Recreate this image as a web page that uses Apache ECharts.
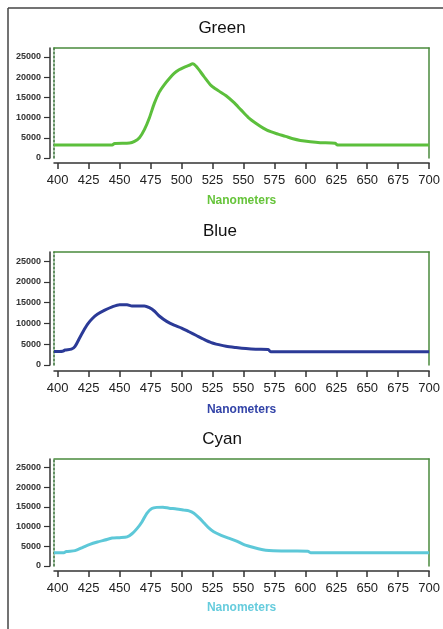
<!DOCTYPE html>
<html>
<head>
<meta charset="utf-8">
<script src="https://cdn.jsdelivr.net/npm/echarts@6/dist/echarts.min.js"></script>
<style>
html,body{margin:0;padding:0;background:#fff;}
#chart{width:443px;height:629px;}
</style>
</head>
<body>
<div id="chart"></div>
<script>
// ---- data ----
const titles = ['Green', 'Blue', 'Cyan'];
const xTickValues = [400, 425, 450, 475, 500, 525, 550, 575, 600, 625, 650, 675, 700];
const yTickValues = [0, 5000, 10000, 15000, 20000, 25000];

const greenNm  = [397, 444, 446, 458, 462, 466, 470, 474, 478, 482, 486, 490, 494, 498, 502, 506, 509, 512, 518, 524, 530, 536, 542, 548, 554, 560, 566, 572, 578, 584, 590, 596, 604, 612, 624, 626, 700];
const greenVal = [3200, 3200, 3600, 3700, 4100, 5000, 7000, 9900, 13500, 16300, 18100, 19600, 20900, 21800, 22400, 22900, 23300, 22600, 20200, 17900, 16600, 15400, 13800, 11900, 10000, 8600, 7400, 6500, 5900, 5350, 4750, 4350, 4030, 3800, 3630, 3200, 3200];

const blueNm  = [397, 404, 406, 411, 414, 418, 421, 424, 428, 432, 438, 444, 450, 456, 460, 470, 474, 478, 482, 488, 494, 500, 506, 512, 518, 524, 530, 536, 544, 552, 560, 570, 572, 700];
const blueVal = [3230, 3300, 3600, 3800, 4500, 6700, 8300, 9800, 11200, 12200, 13200, 14000, 14500, 14500, 14200, 14200, 13800, 13000, 11800, 10500, 9600, 8900, 8000, 7100, 6200, 5400, 4900, 4500, 4200, 3950, 3800, 3750, 3200, 3200];

const cyanNm  = [397, 405, 407, 414, 420, 426, 432, 438, 444, 450, 456, 460, 464, 468, 472, 476, 480, 485, 490, 496, 502, 506, 510, 514, 518, 522, 526, 532, 538, 544, 550, 556, 562, 568, 574, 585, 602, 604, 700];
const cyanVal = [3400, 3400, 3700, 3900, 4700, 5500, 6100, 6600, 7100, 7200, 7400, 8200, 9500, 11200, 13400, 14600, 14900, 14950, 14700, 14500, 14200, 14000, 13400, 12300, 11000, 9700, 8700, 7800, 7100, 6400, 5500, 4900, 4400, 4000, 3850, 3800, 3780, 3400, 3350];

const seriesNm  = [greenNm, blueNm, cyanNm];
const seriesVal = [greenVal, blueVal, cyanVal];

// ---- styles ----
const FONT = 'Liberation Sans, Arial, sans-serif';
const lineColors = ['#5cbf3c', '#2b3a97', '#5dc8d8'];
const nameColors = ['#66c43a', '#3344a8', '#66ccdd'];
const frameGreen = '#4a8a3c';
const layout = [
  {top: 48,  height: 110, right: 10, xOff: 5, titleTop: 20,  nameGap: 32},
  {top: 252, height: 113, right: 11, xOff: 6, titleTop: 223, nameGap: 33},
  {top: 459, height: 107, right: 8,  xOff: 5, titleTop: 431, nameGap: 31}
];
const titleX = [222, 220, 222];

const grid = [], xAxis = [], yAxis = [], series = [], title = [];
layout.forEach((L, i) => {
  grid.push({left: 54, right: L.right, top: L.top, height: L.height, containLabel: false});
  title.push({
    text: titles[i], left: titleX[i], top: L.titleTop, textAlign: 'center', padding: 0,
    textStyle: {fontFamily: FONT, fontSize: 17, fontWeight: 'normal', color: '#111'}
  });
  xAxis.push({
    gridIndex: i, type: 'value', min: 397, max: 700, position: 'bottom', offset: L.xOff,
    axisLine: {show: true, onZero: false, lineStyle: {color: '#333', width: 1.5}},
    axisTick: {show: true, customValues: xTickValues, length: 6, lineStyle: {color: '#333', width: 1.5}},
    axisLabel: {customValues: xTickValues, margin: 11, fontFamily: FONT, fontSize: 13, color: '#222'},
    splitLine: {show: false},
    name: 'Nanometers', nameLocation: 'middle', nameGap: L.nameGap,
    nameTextStyle: {fontFamily: FONT, fontSize: 12, fontWeight: 'bold', color: nameColors[i]}
  });
  xAxis.push({
    gridIndex: i, type: 'value', min: 397, max: 700, position: 'top',
    axisLine: {show: true, onZero: false, lineStyle: {color: frameGreen, width: 1.5}},
    axisTick: {show: false}, axisLabel: {show: false}, splitLine: {show: false}
  });
  yAxis.push({
    gridIndex: i, type: 'value', min: 0, max: 27200, position: 'left', offset: 4,
    axisLine: {show: true, onZero: false, lineStyle: {color: '#333', width: 1.5}},
    axisTick: {show: true, customValues: yTickValues, length: 6, lineStyle: {color: '#333', width: 1.2}},
    axisLabel: {customValues: yTickValues, margin: 9, fontFamily: FONT, fontSize: 9, fontWeight: 'bold', color: '#333',
                formatter: v => String(v)},
    splitLine: {show: false}
  });
  yAxis.push({
    gridIndex: i, type: 'value', min: 0, max: 27200, position: 'right',
    axisLine: {show: true, onZero: false, lineStyle: {color: frameGreen, width: 1.5}},
    axisTick: {show: false}, axisLabel: {show: false}, splitLine: {show: false}
  });
  yAxis.push({
    gridIndex: i, type: 'value', min: 0, max: 27200, position: 'left', offset: 0,
    axisLine: {show: true, onZero: false, lineStyle: {color: '#2f6b2f', width: 1.5, type: [2, 2]}},
    axisTick: {show: false}, axisLabel: {show: false}, splitLine: {show: false}
  });
  series.push({
    type: 'line', xAxisIndex: 2 * i, yAxisIndex: 3 * i,
    data: seriesNm[i].map((x, k) => [x, seriesVal[i][k]]),
    showSymbol: false, symbol: 'none', smooth: 0.25,
    lineStyle: {color: lineColors[i], width: 3}, silent: true
  });
});

const chart = echarts.init(document.getElementById('chart'), null, {renderer: 'canvas'});
chart.setOption({
  animation: false,
  backgroundColor: '#fff',
  title, grid, xAxis, yAxis, series,
  graphic: [
    {type: 'line', shape: {x1: 8, y1: 8, x2: 8, y2: 629}, style: {stroke: '#444', lineWidth: 1.5}},
    {type: 'line', shape: {x1: 8, y1: 8, x2: 443, y2: 8}, style: {stroke: '#444', lineWidth: 1.5}}
  ]
});
</script>
</body>
</html>
